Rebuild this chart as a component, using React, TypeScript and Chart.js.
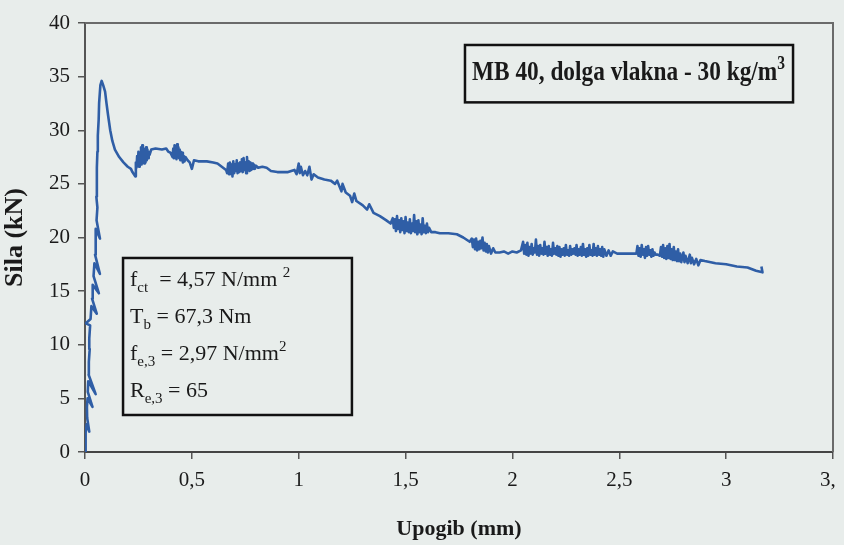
import React, { useEffect, useRef } from 'react';
import { Chart, registerables } from 'chart.js';

Chart.register(...registerables);

// ---- data ----
const xTickLabels = ['0', '0,5', '1', '1,5', '2', '2,5', '3', '3,5'];
const yTickLabels = ['0', '5', '10', '15', '20', '25', '30', '35', '40'];
const xRange = [0, 3.5, 0.5];
const yRange = [0, 40, 5];

// deflection (mm), force (kN)
const riseSegment: [number, number][] = [
  [0, 0], [0.004, 1.0], [0.002, 1.8], [0.008, 2.6], [0.02, 1.9], [0.01, 3.2], [0.009, 4.2],
  [0.012, 5.0], [0.035, 4.2], [0.013, 5.6], [0.015, 6.6], [0.05, 5.4], [0.017, 7.2],
  [0.018, 8.4], [0.022, 9.6], [0.02, 10.6], [0.024, 11.8], [0.004, 12.0], [0.026, 12.4],
  [0.03, 13.6], [0.055, 12.9], [0.033, 14.3], [0.036, 15.6], [0.065, 14.8], [0.04, 16.4],
  [0.044, 17.6], [0.07, 16.6], [0.047, 18.4], [0.05, 19.6], [0.05, 20.8], [0.07, 19.9],
  [0.054, 21.6], [0.058, 22.8], [0.053, 23.8], [0.056, 25.0], [0.055, 26.5], [0.058, 28.0],
  [0.06, 29.5], [0.064, 31.0], [0.066, 32.5], [0.072, 34.2], [0.078, 34.6],
];
const peakDropSegment: [number, number][] = [
  [0.085, 34.2], [0.094, 33.6], [0.1, 32.6], [0.108, 31.4], [0.118, 30.0], [0.128, 29.0],
  [0.14, 28.2], [0.16, 27.5], [0.18, 27.0], [0.2, 26.6], [0.215, 26.4], [0.222, 26.1],
  [0.235, 25.7], [0.238, 27.0], [0.241, 26.5], [0.244, 27.6], [0.247, 26.7], [0.25, 28.0],
  [0.253, 26.6], [0.256, 27.9], [0.259, 27.0], [0.262, 28.4], [0.265, 26.8], [0.268, 28.6],
  [0.271, 27.1], [0.274, 28.3], [0.277, 26.9], [0.28, 28.1], [0.283, 27.0], [0.286, 28.4],
  [0.289, 27.2], [0.292, 28.2], [0.295, 27.4], [0.298, 28.0], [0.302, 27.7], [0.31, 28.2],
  [0.33, 28.3], [0.36, 28.2], [0.38, 28.3],
];
const plateauSegment: [number, number][] = [
  [0.39, 28.0], [0.4, 27.9], [0.41, 27.5], [0.413, 28.3], [0.416, 27.4], [0.419, 28.6],
  [0.422, 27.5], [0.425, 28.2], [0.428, 27.3], [0.431, 28.7], [0.434, 27.6], [0.437, 28.4],
  [0.44, 27.4], [0.443, 28.2], [0.446, 27.2], [0.449, 28.0], [0.452, 27.3], [0.455, 27.9],
  [0.458, 27.0], [0.462, 27.6], [0.466, 27.1], [0.47, 27.5], [0.48, 27.2], [0.49, 27.0],
  [0.5, 26.4], [0.51, 27.2], [0.53, 27.1], [0.57, 27.1], [0.6, 27.0], [0.62, 26.9],
  [0.64, 26.6], [0.66, 26.3], [0.665, 26.0], [0.67, 26.9], [0.674, 25.9], [0.678, 27.0],
  [0.682, 26.1], [0.686, 26.8], [0.69, 25.7], [0.694, 27.1], [0.698, 26.0], [0.702, 26.8],
  [0.706, 26.2], [0.71, 27.2], [0.714, 26.0], [0.718, 26.9], [0.722, 26.1], [0.726, 27.0],
  [0.73, 26.2], [0.734, 27.3], [0.738, 26.1], [0.742, 27.4], [0.746, 26.3], [0.75, 27.0],
  [0.754, 26.0], [0.758, 27.5], [0.762, 26.3], [0.766, 27.1], [0.77, 26.2], [0.774, 27.0],
  [0.778, 26.3], [0.782, 26.9], [0.786, 26.4], [0.79, 26.8], [0.795, 26.4], [0.8, 26.7],
  [0.81, 26.5], [0.83, 26.6], [0.85, 26.5], [0.87, 26.2], [0.9, 26.1], [0.93, 26.1],
  [0.95, 26.1], [0.98, 26.3], [0.99, 25.9], [1.0, 26.9], [1.005, 26.0], [1.01, 26.6],
  [1.02, 25.8], [1.03, 26.2], [1.04, 25.8], [1.05, 26.6], [1.06, 25.4], [1.07, 25.9],
  [1.09, 25.6], [1.12, 25.4], [1.15, 25.3],
];
const softeningSegment: [number, number][] = [
  [1.17, 25.0], [1.18, 25.3], [1.2, 24.3], [1.205, 25.0], [1.22, 24.2], [1.24, 23.9],
  [1.25, 23.3], [1.26, 24.1], [1.27, 23.4], [1.3, 23.0], [1.32, 22.6], [1.33, 23.1],
  [1.35, 22.3], [1.38, 22.0], [1.41, 21.6], [1.43, 21.3], [1.44, 21.8], [1.445, 20.9],
  [1.45, 21.7], [1.455, 20.6], [1.46, 22.0], [1.465, 20.8], [1.47, 21.6], [1.475, 20.5],
  [1.48, 21.8], [1.485, 20.7], [1.49, 21.5], [1.495, 20.4], [1.5, 21.9], [1.505, 20.6],
  [1.51, 21.4], [1.515, 20.5], [1.52, 21.7], [1.525, 20.4], [1.53, 21.3], [1.535, 20.6],
  [1.54, 22.1], [1.545, 20.5], [1.55, 21.5], [1.555, 20.3], [1.56, 21.6], [1.565, 20.5],
  [1.57, 21.2], [1.575, 20.3], [1.58, 21.8], [1.585, 20.5], [1.59, 21.1], [1.595, 20.4],
  [1.6, 21.3], [1.605, 20.5], [1.61, 20.9], [1.62, 20.5], [1.64, 20.5], [1.66, 20.4],
  [1.7, 20.4], [1.74, 20.3], [1.77, 20.0], [1.8, 19.6], [1.81, 19.9], [1.815, 19.1],
  [1.82, 19.8], [1.825, 18.9], [1.83, 19.9], [1.835, 18.8], [1.84, 19.6], [1.845, 18.9],
  [1.85, 19.7], [1.855, 19.0], [1.86, 20.0], [1.865, 18.8], [1.87, 19.5], [1.875, 18.7],
  [1.88, 19.4], [1.885, 18.6], [1.89, 19.2], [1.9, 18.5], [1.91, 19.0], [1.92, 18.6],
  [1.94, 18.6], [1.96, 18.7], [1.98, 18.5], [2.0, 18.7], [2.02, 18.6], [2.04, 18.8],
];
const tailSegment: [number, number][] = [
  [2.05, 19.6], [2.055, 18.5], [2.06, 19.3], [2.065, 18.4], [2.07, 19.5], [2.075, 18.3],
  [2.08, 19.1], [2.085, 18.5], [2.09, 19.4], [2.095, 18.4], [2.1, 19.0], [2.105, 18.6],
  [2.11, 19.8], [2.115, 18.4], [2.12, 19.2], [2.125, 18.3], [2.13, 19.3], [2.135, 18.5],
  [2.14, 19.0], [2.145, 18.4], [2.15, 19.6], [2.155, 18.5], [2.16, 19.1], [2.165, 18.3],
  [2.17, 19.2], [2.175, 18.4], [2.18, 18.9], [2.185, 18.3], [2.19, 19.5], [2.195, 18.5],
  [2.2, 19.0], [2.205, 18.4], [2.21, 19.2], [2.215, 18.3], [2.22, 19.1], [2.225, 18.2],
  [2.23, 18.9], [2.235, 18.4], [2.24, 19.0], [2.245, 18.3], [2.25, 19.3], [2.255, 18.4],
  [2.26, 18.8], [2.265, 18.3], [2.27, 19.2], [2.275, 18.4], [2.28, 18.9], [2.285, 18.5],
  [2.29, 19.0], [2.295, 18.4], [2.3, 19.3], [2.305, 18.3], [2.31, 18.9], [2.315, 18.4],
  [2.32, 19.1], [2.325, 18.3], [2.33, 19.4], [2.335, 18.4], [2.34, 18.9], [2.345, 18.2],
  [2.35, 19.0], [2.355, 18.3], [2.36, 19.3], [2.365, 18.4], [2.37, 18.8], [2.375, 18.3],
  [2.38, 19.4], [2.385, 18.4], [2.39, 19.0], [2.395, 18.3], [2.4, 19.2], [2.405, 18.4],
  [2.41, 18.9], [2.415, 18.3], [2.42, 19.1], [2.425, 18.2], [2.43, 18.9], [2.44, 18.3],
  [2.45, 18.8], [2.46, 18.3], [2.47, 18.7], [2.49, 18.5], [2.53, 18.5], [2.58, 18.5],
  [2.585, 19.2], [2.59, 18.3], [2.595, 19.0], [2.6, 18.2], [2.605, 19.3], [2.61, 18.4],
  [2.615, 18.9], [2.62, 18.1], [2.625, 19.1], [2.63, 18.3], [2.635, 19.2], [2.64, 18.4],
  [2.645, 18.8], [2.65, 18.2], [2.655, 18.9], [2.66, 18.3], [2.665, 18.6], [2.67, 18.4],
  [2.68, 18.4], [2.69, 18.3], [2.695, 19.1], [2.7, 18.2], [2.705, 19.3], [2.71, 18.1],
  [2.715, 19.0], [2.72, 18.0], [2.725, 19.2], [2.73, 18.1], [2.735, 19.4], [2.74, 18.0],
  [2.745, 18.9], [2.75, 17.9], [2.755, 19.1], [2.76, 17.9], [2.765, 18.7], [2.77, 17.8],
  [2.775, 18.9], [2.78, 17.8], [2.785, 18.5], [2.79, 17.7], [2.8, 18.6], [2.805, 17.7],
  [2.81, 18.3], [2.82, 17.6], [2.83, 18.4], [2.835, 17.6], [2.84, 18.1], [2.85, 17.5],
  [2.86, 18.0], [2.87, 17.4], [2.88, 17.9], [2.9, 17.8], [2.95, 17.6], [3.0, 17.5],
  [3.05, 17.3], [3.1, 17.2], [3.14, 16.9], [3.17, 16.75], [3.165, 17.3],
];
const curve = [...riseSegment, ...peakDropSegment, ...plateauSegment, ...softeningSegment, ...tailSegment];

const titleText = 'MB 40, dolga vlakna - 30 kg/m';
const titleSup = '3';
type Run = { t: string; sub?: boolean; sup?: boolean };
const paramLines: Run[][] = [
  [{ t: 'f' }, { t: 'ct', sub: true }, { t: '  = 4,57 N/mm ' }, { t: '2', sup: true }],
  [{ t: 'T' }, { t: 'b', sub: true }, { t: ' = 67,3 Nm' }],
  [{ t: 'f' }, { t: 'e,3', sub: true }, { t: ' = 2,97 N/mm' }, { t: '2', sup: true }],
  [{ t: 'R' }, { t: 'e,3', sub: true }, { t: ' = 65' }],
];

// ---- styling ----
const BG = '#e8edeb';
const SERIF = '"Liberation Serif", "DejaVu Serif", serif';
const INK = '#1a1a1a';

function runFont(r: Run, size: number, bold: boolean) {
  const s = r.sub || r.sup ? Math.round(size * 0.66) : size;
  return `${bold ? 'bold ' : ''}${s}px ${SERIF}`;
}
function measureRuns(ctx: CanvasRenderingContext2D, runs: Run[], size: number, bold: boolean) {
  let w = 0;
  for (const r of runs) {
    ctx.font = runFont(r, size, bold);
    w += ctx.measureText(r.t).width;
  }
  return w;
}
function drawRuns(ctx: CanvasRenderingContext2D, runs: Run[], x: number, y: number, size: number, bold: boolean) {
  let cx = x;
  for (const r of runs) {
    ctx.font = runFont(r, size, bold);
    const dy = r.sub ? size * 0.28 : r.sup ? -size * 0.42 : 0;
    ctx.fillText(r.t, cx, y + dy);
    cx += ctx.measureText(r.t).width;
  }
}

const annotationPlugin = {
  id: 'annotationPlugin',
  afterDatasetsDraw(chart: any) {
    const { ctx, chartArea: a, scales } = chart;
    const xs = scales.x;
    const ys = scales.y;
    ctx.save();
    // frame top + right
    ctx.strokeStyle = '#6a6a6a';
    ctx.lineWidth = 2;
    ctx.beginPath();
    ctx.moveTo(a.left, a.top);
    ctx.lineTo(a.right, a.top);
    ctx.lineTo(a.right, a.bottom);
    ctx.stroke();

    ctx.fillStyle = INK;
    ctx.textBaseline = 'alphabetic';
    ctx.textAlign = 'left';

    // title box
    const tx0 = xs.getPixelForValue(1.778);
    const tx1 = xs.getPixelForValue(3.313);
    const ty0 = ys.getPixelForValue(37.95);
    const ty1 = ys.getPixelForValue(32.6);
    ctx.strokeStyle = '#111';
    ctx.lineWidth = 2.5;
    ctx.strokeRect(tx0, ty0, tx1 - tx0, ty1 - ty0);
    const titleRuns: Run[] = [{ t: titleText }, { t: titleSup, sup: true }];
    const tsize = 27;
    const tw = measureRuns(ctx, titleRuns, tsize, true);
    const target = tx1 - tx0 - 15;
    ctx.save();
    ctx.translate(tx0 + 7, ty0 + 35);
    ctx.scale(target / tw, 1);
    ctx.fillStyle = INK;
    drawRuns(ctx, titleRuns, 0, 0, tsize, true);
    ctx.restore();

    // parameter box
    const px0 = xs.getPixelForValue(0.178);
    const px1 = xs.getPixelForValue(1.249);
    const py0 = ys.getPixelForValue(18.09);
    const py1 = ys.getPixelForValue(3.45);
    ctx.strokeStyle = '#111';
    ctx.lineWidth = 2.5;
    ctx.strokeRect(px0, py0, px1 - px0, py1 - py0);
    ctx.fillStyle = INK;
    paramLines.forEach((line, i) => {
      drawRuns(ctx, line, px0 + 7, py0 + 28 + i * 37, 22, false);
    });
    ctx.restore();
  },
};

export default function App() {
  const ref = useRef<HTMLCanvasElement | null>(null);
  useEffect(() => {
    document.body.style.margin = '0';
    document.body.style.background = BG;
    const canvas = ref.current!;
    const chart = new Chart(canvas, {
      type: 'scatter',
      data: {
        datasets: [
          {
            data: curve.map(([x, y]) => ({ x, y })),
            showLine: true,
            borderColor: '#2f5ea6',
            borderWidth: 2.6,
            pointRadius: 0,
            tension: 0,
            borderJoinStyle: 'round',
          } as any,
        ],
      },
      plugins: [annotationPlugin],
      options: {
        animation: false,
        responsive: false,
        devicePixelRatio: 1,
        layout: { padding: { top: 23, right: 47, left: 0, bottom: 0 } },
        plugins: { legend: { display: false }, tooltip: { enabled: false } },
        scales: {
          x: {
            type: 'linear',
            min: xRange[0],
            max: xRange[1],
            afterBuildTicks: (s: any) => {
              s.ticks = xTickLabels.map((_, i) => ({ value: xRange[0] + i * xRange[2] }));
            },
            ticks: {
              callback: (_v: any, i: number) => xTickLabels[i],
              font: { family: SERIF, size: 21 },
              color: INK,
              padding: 9,
              maxRotation: 0,
              autoSkip: false,
            },
            grid: { drawOnChartArea: false, tickLength: 7, color: '#555', lineWidth: 1.5 },
            border: { color: '#444', width: 2 },
            title: {
              display: true,
              text: 'Upogib (mm)',
              font: { family: SERIF, size: 22, weight: 'bold' },
              color: INK,
              padding: { top: 0, bottom: 2 },
            },
            afterFit: (s: any) => {
              s.height = 93;
              s.paddingLeft = 0;
              s.paddingRight = 0;
            },
          },
          y: {
            type: 'linear',
            min: yRange[0],
            max: yRange[1],
            afterBuildTicks: (s: any) => {
              s.ticks = yTickLabels.map((_, i) => ({ value: yRange[0] + i * yRange[2] }));
            },
            ticks: {
              callback: (_v: any, i: number) => yTickLabels[i],
              font: { family: SERIF, size: 21 },
              color: INK,
              padding: 8,
              autoSkip: false,
            },
            grid: { drawOnChartArea: false, tickLength: 7, color: '#555', lineWidth: 1.5 },
            border: { color: '#555', width: 2 },
            title: {
              display: true,
              text: 'Sila (kN)',
              font: { family: SERIF, size: 26, weight: 'bold' },
              color: INK,
              padding: { top: 0, bottom: 0 },
            },
            afterFit: (s: any) => {
              s.width = 85;
              s.paddingTop = 0;
              s.paddingBottom = 0;
            },
          },
        },
      },
    });
    return () => chart.destroy();
  }, []);

  return (
    <div style={{ position: 'fixed', left: 0, top: 0, width: 844, height: 545, background: BG, overflow: 'hidden' }}>
      <div style={{ position: 'absolute', left: 0, top: 0, width: 836, height: 545, overflow: 'hidden' }}>
        <canvas ref={ref} width={880} height={545} style={{ width: 880, height: 545, display: 'block' }} />
      </div>
    </div>
  );
}
